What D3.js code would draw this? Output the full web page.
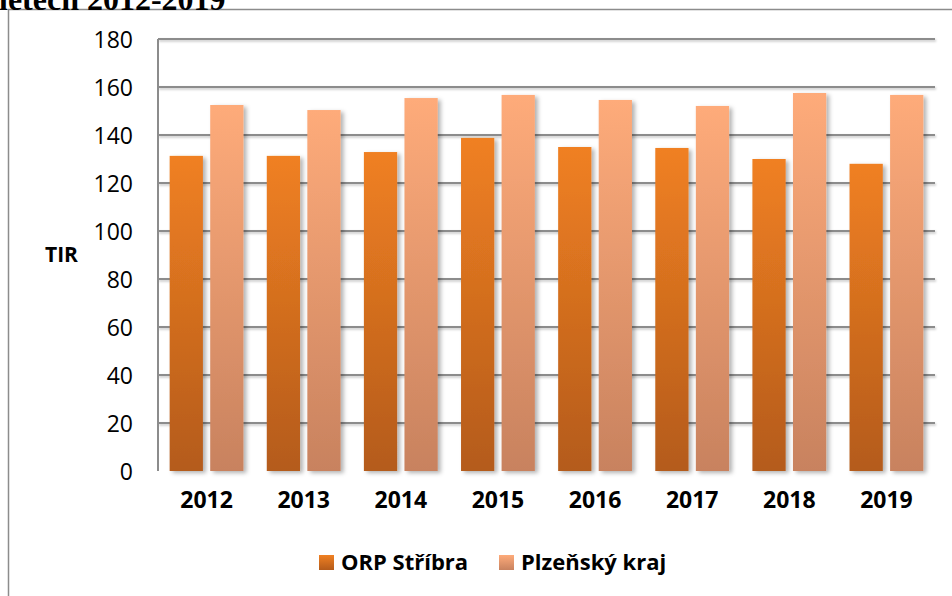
<!DOCTYPE html>
<html lang="cs">
<head>
  <meta charset="UTF-8">
  <title>TIR – ORP Stříbra a Plzeňský kraj</title>
  <script src="https://d3js.org/d3.v7.min.js"></script>
  <style>
    html, body { margin: 0; padding: 0; background: #fff; }
    svg { display: block; }
    .tick-y { font-family: "Open Sans", sans-serif; font-size: 23px; fill: #000; }
    .tick-x { font-family: "Open Sans", sans-serif; font-size: 23px; font-weight: bold; fill: #000; }
    .legend { font-family: "Open Sans", sans-serif; font-size: 22px; font-weight: bold; fill: #000; }
  </style>
</head>
<body>
<svg id="chart" width="952" height="596"></svg>
<script>
  // Data
  const years = ["2012", "2013", "2014", "2015", "2016", "2017", "2018", "2019"];
  const seriesNames = ["ORP Stříbra", "Plzeňský kraj"];
  const orpStribra = [131.3, 131.3, 132.9, 138.8, 135.0, 134.6, 130.0, 128.0];
  const plzenskyKraj = [152.5, 150.4, 155.4, 156.7, 154.6, 152.1, 157.5, 156.7];
  const yTicks = [0, 20, 40, 60, 80, 100, 120, 140, 160, 180];

  const table = years.map((y, i) => ({ year: y, values: [orpStribra[i], plzenskyKraj[i]] }));

  const svg = d3.select("#chart");
  const plot = { left: 158, right: 935, top: 39, bottom: 471 };

  const defs = svg.append("defs");

  // bar gradients (per bar, top to bottom)
  const grads = [
    { id: "gOrange", top: "#f08022", bottom: "#b45b1b" },
    { id: "gPeach", top: "#feab7a", bottom: "#c8825f" }
  ];
  grads.forEach(g => {
    const lg = defs.append("linearGradient")
      .attr("id", g.id).attr("x1", 0).attr("y1", 0).attr("x2", 0).attr("y2", 1);
    lg.append("stop").attr("offset", "0%").attr("stop-color", g.top);
    lg.append("stop").attr("offset", "100%").attr("stop-color", g.bottom);
  });

  const shadow = defs.append("filter").attr("id", "shadow")
    .attr("x", "-20%").attr("y", "-10%").attr("width", "150%").attr("height", "130%");
  shadow.append("feDropShadow").attr("dx", 3).attr("dy", 2)
    .attr("stdDeviation", 2).attr("flood-color", "#000").attr("flood-opacity", 0.3);

  const lineShadow = defs.append("filter").attr("id", "lineShadow")
    .attr("x", "-5%").attr("y", "-200%").attr("width", "110%").attr("height", "500%");
  lineShadow.append("feDropShadow").attr("dx", 1).attr("dy", 1.5)
    .attr("stdDeviation", 0.8).attr("flood-color", "#000").attr("flood-opacity", 0.25);

  // outer frame (cut off on right and bottom)
  svg.append("rect")
    .attr("x", 8.5).attr("y", 9.5).attr("width", 1000).attr("height", 1000)
    .attr("fill", "none").attr("stroke", "#8c8c8c").attr("stroke-width", 1.5);

  // title, only its lower part shows at the top edge
  svg.append("text")
    .attr("x", -1).attr("y", 10)
    .style("font-family", "'Liberation Serif', serif")
    .style("font-size", "32px").style("font-weight", "bold")
    .text("letech 2012-2019");

  // scales
  const x0 = d3.scaleBand().domain(years)
    .range([plot.left, plot.right]).paddingInner(0.24).paddingOuter(0.12);
  const x1 = d3.scaleBand().domain([0, 1])
    .range([0, x0.bandwidth()]).paddingInner(0.18).paddingOuter(0);
  const y = d3.scaleLinear().domain([0, 180]).range([plot.bottom, plot.top]);

  // gridlines
  svg.append("g").attr("filter", "url(#lineShadow)")
    .selectAll("line").data(yTicks.filter(t => t > 0)).join("line")
    .attr("x1", plot.left).attr("x2", plot.right)
    .attr("y1", d => y(d)).attr("y2", d => y(d))
    .attr("stroke", "#8c8c8c").attr("stroke-width", 2);

  // y axis labels via d3 axis
  const yAxis = svg.append("g")
    .attr("transform", `translate(${plot.left},0)`)
    .call(d3.axisLeft(y).tickValues(yTicks).tickSize(0).tickPadding(25));
  yAxis.select(".domain").remove();
  yAxis.selectAll("text").attr("class", "tick-y").attr("dy", "0.35em").style("font-size", null).style("font-family", null);

  // bars
  const groups = svg.append("g").selectAll("g").data(table).join("g")
    .attr("transform", d => `translate(${x0(d.year)},0)`);
  groups.selectAll("rect").data(d => d.values).join("rect")
    .attr("x", (d, i) => x1(i))
    .attr("width", x1.bandwidth())
    .attr("y", d => y(d))
    .attr("height", d => y(0) - y(d))
    .attr("fill", (d, i) => `url(#${grads[i].id})`)
    .attr("filter", "url(#shadow)");

  // axis lines
  svg.append("line")
    .attr("x1", plot.left).attr("x2", plot.left)
    .attr("y1", plot.top).attr("y2", plot.bottom)
    .attr("stroke", "#8c8c8c").attr("stroke-width", 2);
  svg.append("line")
    .attr("x1", plot.left).attr("x2", plot.right)
    .attr("y1", plot.bottom).attr("y2", plot.bottom)
    .attr("stroke", "#8c8c8c").attr("stroke-width", 2)
    .attr("filter", "url(#lineShadow)");

  // x axis labels
  const xAxis = svg.append("g")
    .attr("transform", `translate(0,${plot.bottom})`)
    .call(d3.axisBottom(x0).tickSize(0).tickPadding(21));
  xAxis.select(".domain").remove();
  xAxis.selectAll("text").attr("class", "tick-x").style("font-size", null).style("font-family", null);

  // y axis title
  svg.append("text")
    .attr("x", 45).attr("y", (plot.top + plot.bottom) / 2).attr("dy", "0.35em")
    .style("font-family", "'Open Sans', sans-serif")
    .style("font-size", "21px").style("font-weight", "bold")
    .text("TIR");

  // legend
  const legendItems = [
    { name: seriesNames[0], x: 319, grad: grads[0].id },
    { name: seriesNames[1], x: 499, grad: grads[1].id }
  ];
  const lg = svg.append("g").selectAll("g").data(legendItems).join("g")
    .attr("transform", d => `translate(${d.x},555)`);
  lg.append("rect").attr("width", 15).attr("height", 15)
    .attr("fill", d => `url(#${d.grad})`);
  lg.append("text").attr("class", "legend")
    .attr("x", 22).attr("y", 7.5).attr("dy", "0.35em")
    .text(d => d.name);
</script>
</body>
</html>
